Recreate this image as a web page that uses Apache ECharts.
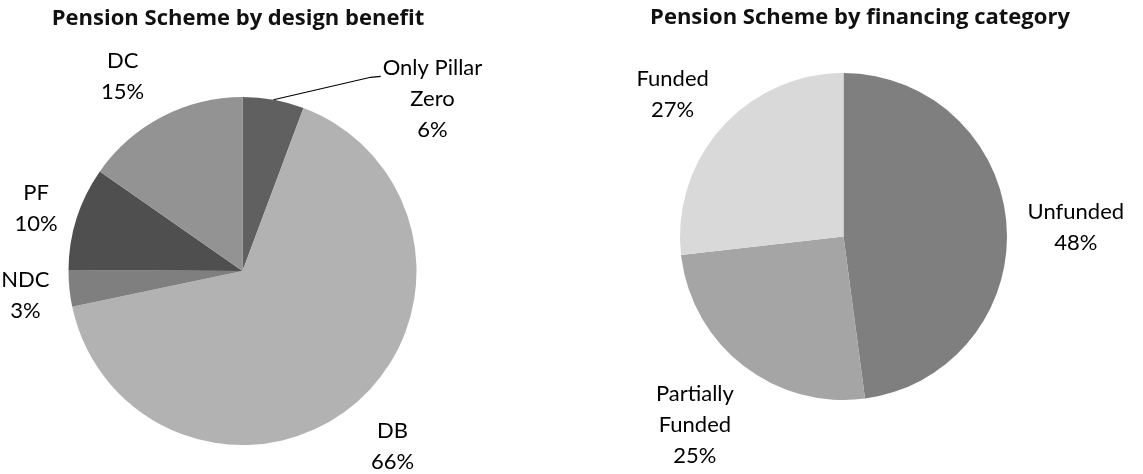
<!DOCTYPE html>
<html>
<head>
<meta charset="utf-8">
<style>
  html, body { margin: 0; padding: 0; background: #ffffff; }
  #chart { width: 1143px; height: 474px; }
</style>
<script src="https://cdn.jsdelivr.net/npm/echarts@6/dist/echarts.min.js"></script>
</head>
<body>
<div id="chart"></div>
<script>
// ---- Data ----
const titles = ['Pension Scheme by design benefit', 'Pension Scheme by financing category'];

const designCategories = ['Only Pillar Zero', 'DB', 'NDC', 'PF', 'DC'];
const designValues = [5.7, 66.0, 3.4, 9.6, 15.3];
const designColors = ['#606060', '#b2b2b2', '#7f7f7f', '#4f4f4f', '#939393'];

const financeCategories = ['Unfunded', 'Partially Funded', 'Funded'];
const financeValues = [47.9, 25.3, 26.8];
const financeColors = ['#7f7f7f', '#a5a5a5', '#d9d9d9'];

// ---- Helpers ----
const FONT = 'Lato, "Open Sans", sans-serif';
const TITLE_FONT = '"Open Sans", Lato, sans-serif';

function wrapName(name) {
  const i = name.lastIndexOf(' ');
  return i < 0 ? name : name.slice(0, i) + '\n' + name.slice(i + 1);
}

// Places each label centred on the slice's mid-angle ray, with a constant
// gap between the pie edge and the label box (like Excel "outside end").
// `special` gives a free placement with a leader line; `nudge` small shifts.
function makeLabelLayout(gap, special, nudge) {
  return function (params) {
    const pts = params.labelLinePoints;
    if (!pts) return {};
    const p0 = pts[0], p1 = pts[1];
    let dx = p1[0] - p0[0], dy = p1[1] - p0[1];
    const len = Math.hypot(dx, dy) || 1;
    dx /= len; dy /= len;
    const w = params.labelRect.width, h = params.labelRect.height;
    const sp = special && special[params.dataIndex];
    if (sp) {
      const cx = p0[0] + sp.dx, cy = p0[1] + sp.dy;
      const left = cx - w / 2, top = cy - h / 2;
      return {
        x: cx, y: cy, align: 'center', verticalAlign: 'middle',
        labelLinePoints: [[p0[0], p0[1]], [left - 12, top + 25], [left - 2, top + 24]]
      };
    }
    const tx = Math.abs(dx) > 1e-6 ? (w / 2) / Math.abs(dx) : Infinity;
    const ty = Math.abs(dy) > 1e-6 ? (h / 2) / Math.abs(dy) : Infinity;
    const t = gap + Math.min(tx, ty);
    const n = (nudge && nudge[params.dataIndex]) || { dx: 0, dy: 0 };
    return { x: p0[0] + dx * t + n.dx, y: p0[1] + dy * t + n.dy, align: 'center', verticalAlign: 'middle' };
  };
}

function buildData(cats, vals, colors, lineIndex) {
  return cats.map(function (c, i) {
    const item = { name: c, value: vals[i], itemStyle: { color: colors[i] } };
    if (i === lineIndex) {
      item.labelLine = { lineStyle: { color: '#000000', width: 1.2, opacity: 1 } };
    }
    return item;
  });
}

function labelFormatter(p) {
  return wrapName(p.name) + '\n' + Math.round(p.percent) + '%';
}

const labelStyle = {
  show: true,
  position: 'outside',
  formatter: labelFormatter,
  fontFamily: FONT,
  fontSize: 22,
  lineHeight: 31,
  color: '#000000'
};

const chart = echarts.init(document.getElementById('chart'), null, { renderer: 'canvas' });

chart.setOption({
  backgroundColor: '#ffffff',
  animation: false,
  title: [
    {
      text: titles[0], left: 233, top: 3, textAlign: 'center',
      textStyle: { fontFamily: TITLE_FONT, fontWeight: 'bold', fontSize: 22, color: '#111111' }
    },
    {
      text: titles[1], left: 855, top: 2, textAlign: 'center',
      textStyle: { fontFamily: TITLE_FONT, fontWeight: 'bold', fontSize: 22, color: '#111111' }
    }
  ],
  series: [
    {
      type: 'pie',
      center: [242.5, 271],
      radius: 174,
      startAngle: 90,
      clockwise: true,
      avoidLabelOverlap: false,
      data: buildData(designCategories, designValues, designColors, 0),
      itemStyle: { borderWidth: 0 },
      label: labelStyle,
      labelLine: { show: true, length: 20, length2: 0, lineStyle: { opacity: 0 } },
      labelLayout: makeLabelLayout(20, { 0: { dx: 159, dy: -1 } },
        { 1: { dx: 2, dy: 3 }, 2: { dx: 0, dy: 3 }, 3: { dx: 0, dy: 3 }, 4: { dx: -14, dy: 8 } }),
      emphasis: { disabled: true }
    },
    {
      type: 'pie',
      center: [843.5, 236.5],
      radius: 163.5,
      startAngle: 90,
      clockwise: true,
      avoidLabelOverlap: false,
      data: buildData(financeCategories, financeValues, financeColors, -1),
      itemStyle: { borderWidth: 0 },
      label: labelStyle,
      labelLine: { show: true, length: 20, length2: 0, lineStyle: { opacity: 0 } },
      labelLayout: makeLabelLayout(19, null,
        { 0: { dx: 2, dy: 6 }, 1: { dx: 0, dy: -2 }, 2: { dx: 0, dy: 10 } }),
      emphasis: { disabled: true }
    }
  ]
});
</script>
</body>
</html>
